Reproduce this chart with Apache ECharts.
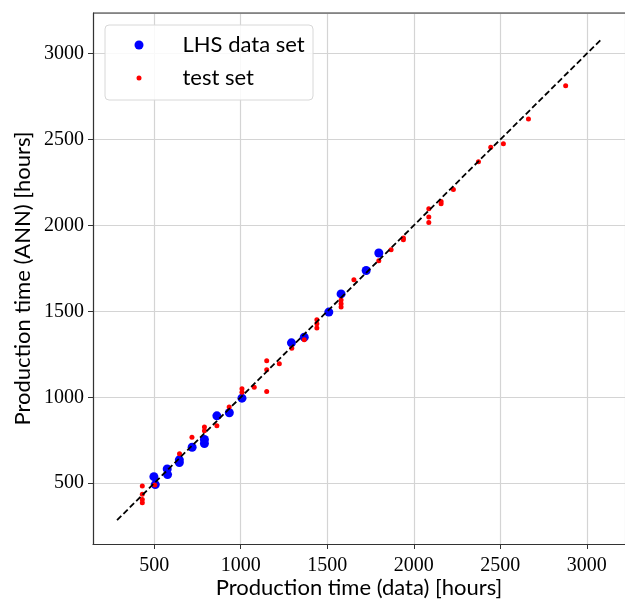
<!DOCTYPE html>
<html>
<head>
<meta charset="utf-8">
<script src="https://cdn.jsdelivr.net/npm/echarts@6/dist/echarts.min.js"></script>
<style>
  html, body { margin: 0; padding: 0; background: #fff; }
  #chart { width: 625px; height: 599px; }
</style>
</head>
<body>
<div id="chart"></div>
<script>
// Production time: measured (data) vs. ANN prediction, in hours.
const lhsData = [
  [498, 538], [506, 492], [575, 583], [577, 550], [645, 636], [645, 620],
  [719, 709], [790, 754], [790, 731], [862, 892], [934, 910], [1007, 995],
  [1293, 1317], [1367, 1350], [1509, 1496], [1580, 1602], [1725, 1738], [1798, 1840]
];
const testData = [
  [431, 484], [431, 436], [431, 405], [431, 386], [503, 490],
  [646, 671], [718, 767], [790, 827], [790, 805], [862, 834], [933, 943],
  [1007, 1050], [1007, 1030], [1078, 1059], [1150, 1212], [1150, 1161], [1150, 1034],
  [1223, 1195], [1295, 1285], [1367, 1335],
  [1440, 1451], [1440, 1428], [1440, 1403],
  [1580, 1567], [1580, 1544], [1580, 1525],
  [1654, 1684], [1798, 1795], [1869, 1859], [1940, 1927], [1940, 1917],
  [2087, 2097], [2087, 2050], [2087, 2018], [2158, 2140], [2158, 2127],
  [2229, 2210], [2374, 2371], [2445, 2455], [2518, 2476], [2663, 2620], [2878, 2814]
];
// y = x reference line
const identityLine = [[285, 285], [3085, 3085]];

const xRange = [146, 3221];
const yRange = [146, 3237];

const sansFont = 'Lato';
const serifFont = 'Liberation Serif';

const chart = echarts.init(document.getElementById('chart'), null, { renderer: 'canvas' });

function axisCommon(name, range, gap, labelMargin) {
  return {
    type: 'value',
    min: range[0],
    max: range[1],
    name: name,
    nameLocation: 'middle',
    nameGap: gap,
    nameMoveOverlap: false,
    nameTextStyle: { fontFamily: sansFont, fontSize: 22, color: '#000' },
    axisLine: { show: true, onZero: false, lineStyle: { color: '#333', width: 1.2 } },
    axisTick: { show: true, inside: false, length: 5, lineStyle: { color: '#333', width: 1 } },
    axisLabel: {
      fontFamily: serifFont, fontSize: 20, color: '#000', margin: labelMargin,
      showMinLabel: false, showMaxLabel: false,
      formatter: v => String(v)
    },
    splitLine: { show: true, lineStyle: { color: '#d4d4d4', width: 1.2 } }
  };
}

chart.setOption({
  animation: false,
  backgroundColor: '#fff',
  grid: { left: 93, top: 13, right: 0, bottom: 55, show: false, containLabel: false, outerBoundsMode: 'none' },
  xAxis: axisCommon('Production time (data) [hours]', xRange, 33, 12),
  yAxis: axisCommon('Production time (ANN) [hours]', yRange, 59, 9),
  graphic: [
    { type: 'line', shape: { x1: 93, y1: 13, x2: 625, y2: 13 }, style: { stroke: '#333', lineWidth: 1.2 }, z: 10 },
    { type: 'rect', shape: { x: 105, y: 25, width: 208, height: 75, r: 4 },
      style: { fill: 'rgba(255,255,255,0.85)', stroke: '#d8d8d8', lineWidth: 1 }, z: 20 }
  ],
  legend: [
    {
      data: [{ name: 'LHS data set', icon: 'circle', itemStyle: { opacity: 1 } }],
      left: 134.5, top: 34, itemWidth: 9, itemHeight: 9, itemGap: 0, padding: 0,
      textStyle: { fontFamily: sansFont, fontSize: 22, color: '#000', padding: [0, 0, 0, 34] },
      z: 30
    },
    {
      data: [{ name: 'test set', icon: 'circle', itemStyle: { opacity: 1 } }],
      left: 136.5, top: 67, itemWidth: 5, itemHeight: 5, itemGap: 0, padding: 0,
      textStyle: { fontFamily: sansFont, fontSize: 22, color: '#000', padding: [0, 0, 0, 36] },
      z: 30
    }
  ],
  series: [
    {
      name: 'LHS data set', type: 'scatter', data: lhsData,
      symbol: 'circle', symbolSize: 9,
      itemStyle: { color: '#0000ff', opacity: 1 }, z: 3
    },
    {
      name: 'test set', type: 'scatter', data: testData,
      symbol: 'circle', symbolSize: 5,
      itemStyle: { color: '#ff0000', opacity: 1 }, z: 4
    },
    {
      name: 'y = x', type: 'line', data: identityLine,
      showSymbol: false, symbol: 'none',
      lineStyle: { color: '#000', width: 1.8, type: [6, 3] }, z: 5
    }
  ]
});
</script>
</body>
</html>
